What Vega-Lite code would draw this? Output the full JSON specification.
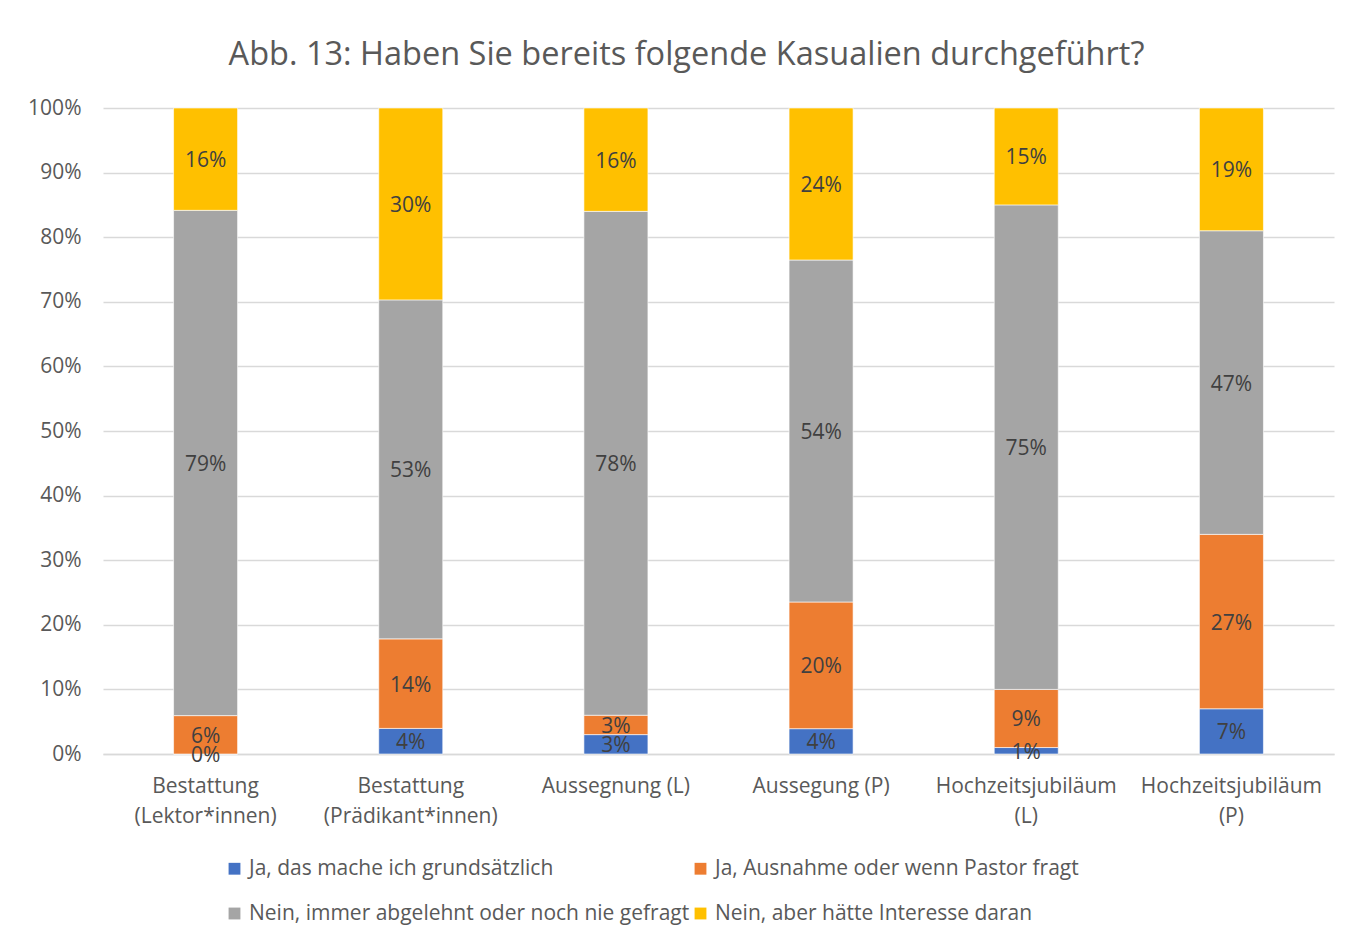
{
  "$schema": "https://vega.github.io/schema/vega-lite/v6.json",
  "autosize": {"type": "none"},
  "width": 1231,
  "height": 646,
  "padding": {"left": 103, "top": 108, "right": 29, "bottom": 187},
  "background": "white",
  "title": {
    "text": "Abb. 13: Haben Sie bereits folgende Kasualien durchgeführt?",
    "font": "Open Sans",
    "fontSize": 32.5,
    "fontWeight": "normal",
    "color": "#595959",
    "anchor": "middle",
    "dx": -32,
    "offset": 26
  },
  "data": {
    "values": [
      {"k": "Bestattung (Lektor*innen)", "s": "Ja, das mache ich grundsätzlich", "v": 0.00},
      {"k": "Bestattung (Lektor*innen)", "s": "Ja, Ausnahme oder wenn Pastor fragt", "v": 0.06},
      {"k": "Bestattung (Lektor*innen)", "s": "Nein, immer abgelehnt oder noch nie gefragt", "v": 0.79},
      {"k": "Bestattung (Lektor*innen)", "s": "Nein, aber hätte Interesse daran", "v": 0.16},
      {"k": "Bestattung (Prädikant*innen)", "s": "Ja, das mache ich grundsätzlich", "v": 0.04},
      {"k": "Bestattung (Prädikant*innen)", "s": "Ja, Ausnahme oder wenn Pastor fragt", "v": 0.14},
      {"k": "Bestattung (Prädikant*innen)", "s": "Nein, immer abgelehnt oder noch nie gefragt", "v": 0.53},
      {"k": "Bestattung (Prädikant*innen)", "s": "Nein, aber hätte Interesse daran", "v": 0.30},
      {"k": "Aussegnung (L)", "s": "Ja, das mache ich grundsätzlich", "v": 0.03},
      {"k": "Aussegnung (L)", "s": "Ja, Ausnahme oder wenn Pastor fragt", "v": 0.03},
      {"k": "Aussegnung (L)", "s": "Nein, immer abgelehnt oder noch nie gefragt", "v": 0.78},
      {"k": "Aussegnung (L)", "s": "Nein, aber hätte Interesse daran", "v": 0.16},
      {"k": "Aussegung (P)", "s": "Ja, das mache ich grundsätzlich", "v": 0.04},
      {"k": "Aussegung (P)", "s": "Ja, Ausnahme oder wenn Pastor fragt", "v": 0.20},
      {"k": "Aussegung (P)", "s": "Nein, immer abgelehnt oder noch nie gefragt", "v": 0.54},
      {"k": "Aussegung (P)", "s": "Nein, aber hätte Interesse daran", "v": 0.24},
      {"k": "Hochzeitsjubiläum (L)", "s": "Ja, das mache ich grundsätzlich", "v": 0.01},
      {"k": "Hochzeitsjubiläum (L)", "s": "Ja, Ausnahme oder wenn Pastor fragt", "v": 0.09},
      {"k": "Hochzeitsjubiläum (L)", "s": "Nein, immer abgelehnt oder noch nie gefragt", "v": 0.75},
      {"k": "Hochzeitsjubiläum (L)", "s": "Nein, aber hätte Interesse daran", "v": 0.15},
      {"k": "Hochzeitsjubiläum (P)", "s": "Ja, das mache ich grundsätzlich", "v": 0.07},
      {"k": "Hochzeitsjubiläum (P)", "s": "Ja, Ausnahme oder wenn Pastor fragt", "v": 0.27},
      {"k": "Hochzeitsjubiläum (P)", "s": "Nein, immer abgelehnt oder noch nie gefragt", "v": 0.47},
      {"k": "Hochzeitsjubiläum (P)", "s": "Nein, aber hätte Interesse daran", "v": 0.19}
    ]
  },
  "transform": [
    {"calculate": "indexof(['Ja, das mache ich grundsätzlich','Ja, Ausnahme oder wenn Pastor fragt','Nein, immer abgelehnt oder noch nie gefragt','Nein, aber hätte Interesse daran'], datum.s)", "as": "ord"}
  ],
  "encoding": {
    "x": {
      "field": "k",
      "type": "nominal",
      "sort": null,
      "title": null,
      "scale": {"paddingInner": 0.688, "paddingOuter": 0.344},
      "axis": {
        "labelAngle": 0,
        "labelFont": "Open Sans",
        "labelFontSize": 21,
        "labelColor": "#595959",
        "labelLineHeight": 30,
        "labelPadding": 21,
        "labelLimit": 0,
        "ticks": false,
        "domainColor": "#d9d9d9",
        "domainWidth": 1.5,
        "labelExpr": "length(datum.label) > 16 ? split(datum.label, ' ') : datum.label"
      }
    },
    "y": {
      "field": "v",
      "type": "quantitative",
      "stack": "normalize",
      "title": null,
      "scale": {"domain": [0, 1]},
      "axis": {
        "values": [0, 0.1, 0.2, 0.3, 0.4, 0.5, 0.6, 0.7, 0.8, 0.9, 1],
        "format": ".0%",
        "labelFont": "Open Sans",
        "labelFontSize": 21,
        "labelColor": "#595959",
        "labelPadding": 22,
        "ticks": false,
        "domain": false,
        "gridColor": "#d9d9d9",
        "gridWidth": 1.5
      }
    },
    "order": {"field": "ord", "type": "quantitative"}
  },
  "layer": [
    {
      "mark": {"type": "bar", "stroke": "#ffffff", "strokeWidth": 0.6},
      "encoding": {
        "color": {
          "field": "s",
          "type": "nominal",
          "title": null,
          "scale": {
            "domain": ["Ja, das mache ich grundsätzlich", "Ja, Ausnahme oder wenn Pastor fragt", "Nein, immer abgelehnt oder noch nie gefragt", "Nein, aber hätte Interesse daran"],
            "range": ["#4472C4", "#ED7D31", "#A5A5A5", "#FFC000"]
          },
          "legend": {
            "orient": "none",
            "legendX": 121,
            "legendY": 750,
            "direction": "horizontal",
            "columns": 2,
            "columnPadding": 0,
            "rowPadding": 23,
            "symbolType": "square",
            "symbolSize": 140,
            "symbolStrokeWidth": 0,
            "symbolOffset": 0,
            "labelOffset": 4,
            "labelFont": "Open Sans",
            "labelFontSize": 21,
            "labelColor": "#595959",
            "labelLimit": 0
          }
        }
      }
    },
    {
      "mark": {"type": "text", "font": "Open Sans", "fontSize": 21, "color": "#404040", "baseline": "middle", "dy": 2},
      "encoding": {
        "y": {"field": "v", "type": "quantitative", "stack": "normalize", "bandPosition": 0.5},
        "text": {"field": "v", "type": "quantitative", "format": ".0%"}
      }
    }
  ],
  "config": {
    "view": {"stroke": null}
  }
}
